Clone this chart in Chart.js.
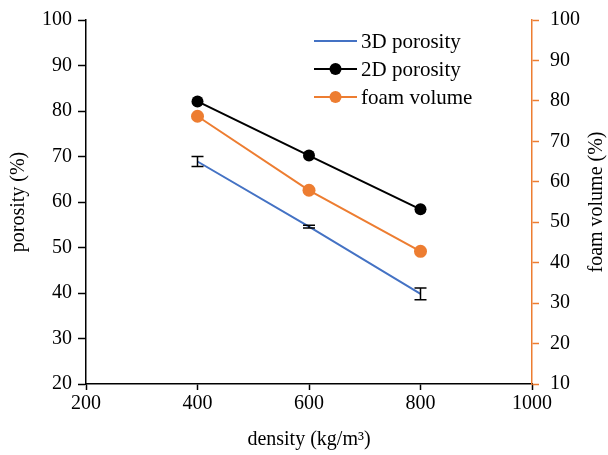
<!DOCTYPE html>
<html>
<head>
<meta charset="utf-8">
<script src="https://cdn.jsdelivr.net/npm/chart.js@4"></script>
<style>
  html, body { margin: 0; padding: 0; background: #fff; }
  #wrap { width: 608px; height: 455px; }
</style>
</head>
<body>
<div id="wrap"><canvas id="c" width="608" height="455"></canvas></div>
<script>
// data
const densities = [400, 600, 800];
const porosity3D = [68.9, 54.6, 39.8];
const porosity3DErr = [1.1, 0.3, 1.3];
const porosity2D = [82.1, 70.2, 58.4];
const foamVolume = [76.2, 57.9, 42.8];

const BLUE = '#4472C4';
const ORANGE = '#ED7D31';
const FONT = 'Liberation Serif, Times New Roman, serif';

const toXY = (ys) => densities.map((x, i) => ({ x: x, y: ys[i] }));

// error bars on the 3D series
const errorBars = {
  id: 'errorBars',
  afterDatasetsDraw(chart) {
    const ctx = chart.ctx;
    const xs = chart.scales.x, ys = chart.scales.y;
    ctx.save();
    ctx.strokeStyle = '#000';
    ctx.lineWidth = 1.5;
    densities.forEach((d, i) => {
      const px = xs.getPixelForValue(d);
      const top = ys.getPixelForValue(porosity3D[i] + porosity3DErr[i]);
      const bot = ys.getPixelForValue(porosity3D[i] - porosity3DErr[i]);
      ctx.beginPath();
      ctx.moveTo(px, top); ctx.lineTo(px, bot);
      ctx.moveTo(px - 6, top); ctx.lineTo(px + 6, top);
      ctx.moveTo(px - 6, bot); ctx.lineTo(px + 6, bot);
      ctx.stroke();
    });
    ctx.restore();
  }
};

// legend inside the plot and right-hand axis title
const extras = {
  id: 'extras',
  afterDraw(chart) {
    const ctx = chart.ctx;
    ctx.save();
    const items = [
      { text: '3D porosity', color: BLUE, marker: false },
      { text: '2D porosity', color: '#000', marker: true },
      { text: 'foam volume', color: ORANGE, marker: true }
    ];
    ctx.font = '21px ' + FONT;
    ctx.textBaseline = 'middle';
    items.forEach((it, i) => {
      const y = 41 + i * 28;
      ctx.strokeStyle = it.color;
      ctx.lineWidth = 2;
      ctx.beginPath();
      ctx.moveTo(314, y); ctx.lineTo(357, y);
      ctx.stroke();
      if (it.marker) {
        ctx.fillStyle = it.color;
        ctx.beginPath();
        ctx.arc(335.5, y, 6, 0, Math.PI * 2);
        ctx.fill();
      }
      ctx.fillStyle = '#000';
      ctx.textAlign = 'left';
      ctx.fillText(it.text, 361, y + 1);
    });
    // right axis title, reading upward
    ctx.font = '20px ' + FONT;
    ctx.translate(597, chart.chartArea.top + chart.chartArea.height / 2);
    ctx.rotate(-Math.PI / 2);
    ctx.textAlign = 'center';
    ctx.fillStyle = '#000';
    ctx.fillText('foam volume (%)', 0, 0);
    ctx.restore();
  }
};

new Chart(document.getElementById('c'), {
  type: 'line',
  data: {
    datasets: [
      {
        label: '3D porosity',
        data: toXY(porosity3D),
        borderColor: BLUE,
        borderWidth: 2,
        pointRadius: 0,
        yAxisID: 'y',
        order: 3
      },
      {
        label: '2D porosity',
        data: toXY(porosity2D),
        borderColor: '#000',
        backgroundColor: '#000',
        borderWidth: 2,
        pointRadius: 6,
        pointBorderWidth: 0,
        yAxisID: 'y',
        order: 2
      },
      {
        label: 'foam volume',
        data: toXY(foamVolume),
        borderColor: ORANGE,
        backgroundColor: ORANGE,
        borderWidth: 2,
        pointRadius: 6.5,
        pointBorderWidth: 0,
        yAxisID: 'y1',
        order: 1
      }
    ]
  },
  options: {
    responsive: false,
    animation: false,
    layout: { padding: { top: 20, right: 0, bottom: 0, left: 0 } },
    plugins: { legend: { display: false }, tooltip: { enabled: false } },
    scales: {
      x: {
        type: 'linear',
        position: 'bottom',
        min: 200, max: 1000,
        afterFit: (s) => { s.height = 71; },
        ticks: { stepSize: 200, color: '#000', font: { family: FONT, size: 20 }, padding: 2, maxRotation: 0,
          callback: (v) => String(v) },
        grid: { drawOnChartArea: false, drawTicks: true, tickLength: 6, tickColor: '#000', tickWidth: 1.5 },
        border: { color: '#000', width: 1.5 },
        title: { display: true, text: 'density (kg/m³)', color: '#000', font: { family: FONT, size: 20 }, padding: { top: 0, bottom: 3 } }
      },
      y: {
        position: 'left',
        min: 20, max: 100,
        afterFit: (s) => { s.width = 86; },
        ticks: { stepSize: 10, color: '#000', font: { family: FONT, size: 20, lineHeight: 0.9 }, padding: 6 },
        grid: { drawOnChartArea: false, drawTicks: true, tickLength: 8, tickColor: '#000', tickWidth: 1.5 },
        border: { color: '#000', width: 1.5 },
        title: { display: true, text: 'porosity (%)', color: '#000', font: { family: FONT, size: 20 }, padding: { top: 7, bottom: 0 } }
      },
      y1: {
        position: 'right',
        min: 10, max: 100,
        afterFit: (s) => { s.width = 76; },
        ticks: { stepSize: 10, color: '#000', font: { family: FONT, size: 20, lineHeight: 0.9 }, padding: 11 },
        grid: { drawOnChartArea: false, drawTicks: true, tickLength: 7, tickColor: ORANGE, tickWidth: 1.5 },
        border: { color: ORANGE, width: 1.5 }
      }
    }
  },
  plugins: [errorBars, extras]
});
</script>
</body>
</html>
